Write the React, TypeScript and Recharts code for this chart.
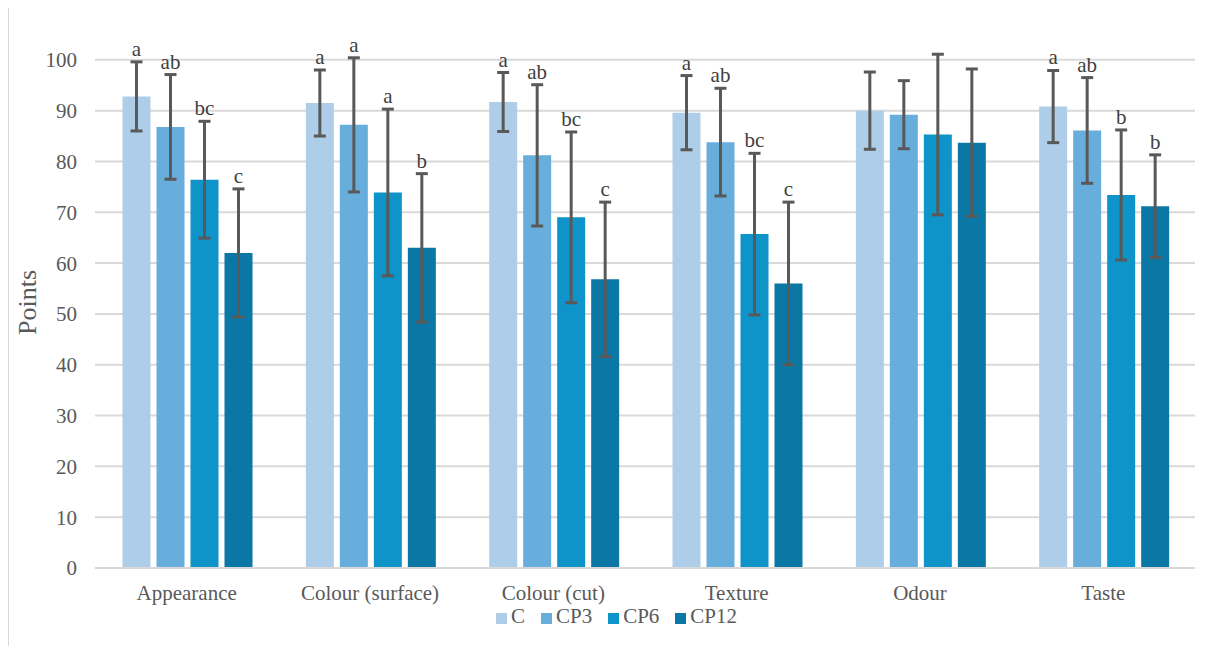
import React from 'react';
import { BarChart, Bar, XAxis, YAxis, CartesianGrid, ErrorBar, LabelList, Legend } from 'recharts';

const categories = ['Appearance', 'Colour (surface)', 'Colour (cut)', 'Texture', 'Odour', 'Taste'];
const seriesNames = ['C', 'CP3', 'CP6', 'CP12'];
const cValues = [92.8, 91.5, 91.7, 89.6, 90.0, 90.8];
const cErrors = [6.8, 6.5, 5.8, 7.3, 7.6, 7.1];
const cLetters = ['a', 'a', 'a', 'a', '', 'a'];
const cp3Values = [86.8, 87.2, 81.2, 83.8, 89.2, 86.1];
const cp3Errors = [10.3, 13.2, 13.9, 10.6, 6.7, 10.4];
const cp3Letters = ['ab', 'a', 'ab', 'ab', '', 'ab'];
const cp6Values = [76.4, 73.9, 69.0, 65.7, 85.3, 73.4];
const cp6Errors = [11.5, 16.4, 16.8, 15.9, 15.8, 12.8];
const cp6Letters = ['bc', 'a', 'bc', 'bc', '', 'b'];
const cp12Values = [62.0, 63.0, 56.8, 56.0, 83.7, 71.2];
const cp12Errors = [12.6, 14.6, 15.2, 16.0, 14.5, 10.1];
const cp12Letters = ['c', 'b', 'c', 'c', '', 'b'];
const yTicks = [0, 10, 20, 30, 40, 50, 60, 70, 80, 90, 100];

const colors = ['#AECDE8', '#68AEDC', '#0E94C8', '#0B77A4'];
const FONT = '"Liberation Serif", "Times New Roman", serif';
const FS = 21;

const valuesList = [cValues, cp3Values, cp6Values, cp12Values];
const errorsList = [cErrors, cp3Errors, cp6Errors, cp12Errors];
const lettersList = [cLetters, cp3Letters, cp6Letters, cp12Letters];

const data = categories.map((cat, i) => {
  const row: any = { category: cat };
  seriesNames.forEach((s, k) => {
    row[s] = valuesList[k][i];
    row[s + '_err'] = errorsList[k][i];
    row[s + '_lab'] = lettersList[k][i];
  });
  return row;
});

const makeLetterLabel = (k: number) => (props: any) => {
  const { x, y, width, height, index, value } = props;
  if (!value) return null;
  const v = valuesList[k][index];
  const e = errorsList[k][index];
  const px = height / v;
  const top = y + height - (v + e) * px;
  return (
    <text x={x + width / 2} y={top - 6} textAnchor="middle" fill="#404040" fontSize={FS} fontFamily={FONT}>
      {value}
    </text>
  );
};

const PointsLabel = (props: any) => {
  const { viewBox } = props;
  const cx = viewBox.x + 19;
  const cy = viewBox.y + viewBox.height / 2 + 14;
  return (
    <text x={cx} y={cy} transform={`rotate(-90, ${cx}, ${cy})`} textAnchor="middle" dominantBaseline="central" fill="#595959" fontSize={26} fontFamily={FONT}>
      Points
    </text>
  );
};

export default function App() {
  return (
    <div style={{ position: 'relative', width: 1202, height: 638, fontFamily: FONT }}>
      <div style={{ position: 'absolute', top: -3, left: -1, width: 1220, height: 660, borderTop: '2px solid #d9d9d9', borderLeft: '2px solid #d9d9d9' }} />
      <BarChart
        width={1202}
        height={638}
        data={data}
        margin={{ top: 1, right: 15, bottom: 48, left: 0 }}
        barCategoryGap="15%"
        barGap={6}
        style={{ position: 'absolute', top: 0, left: 0, fontFamily: FONT }}
      >
        <CartesianGrid vertical={false} stroke="#d9d9d9" strokeWidth={2} syncWithTicks />
        <XAxis
          dataKey="category"
          height={30}
          tickLine={false}
          axisLine={{ stroke: '#d9d9d9', strokeWidth: 2 }}
          tickMargin={11}
          tick={{ fill: '#595959', fontSize: FS, fontFamily: FONT }}
          interval={0}
        />
        <YAxis
          width={87}
          domain={[0, 110]}
          ticks={yTicks}
          tickLine={false}
          axisLine={false}
          tickMargin={12}
          tick={{ fill: '#595959', fontSize: FS, fontFamily: FONT }}
          label={<PointsLabel />}
        />
        <Legend
          verticalAlign="middle"
          align="center"
          layout="horizontal"
          iconType="square"
          iconSize={11}
          itemSorter={(item: any) => seriesNames.indexOf(item.value)}
          wrapperStyle={{ top: 597, left: 23, fontFamily: FONT, fontSize: FS, lineHeight: '22px' }}
          formatter={(value: string) => <span style={{ color: '#595959', marginRight: 6, fontFamily: FONT }}>{value}</span>}
        />
        {seriesNames.map((s, k) => (
          <Bar key={s} dataKey={s} name={s} fill={colors[k]} isAnimationActive={false}>
            <ErrorBar dataKey={s + '_err'} stroke="#595959" strokeWidth={3} width={6} />
            <LabelList dataKey={s + '_lab'} content={makeLetterLabel(k)} />
          </Bar>
        ))}
      </BarChart>
    </div>
  );
}
